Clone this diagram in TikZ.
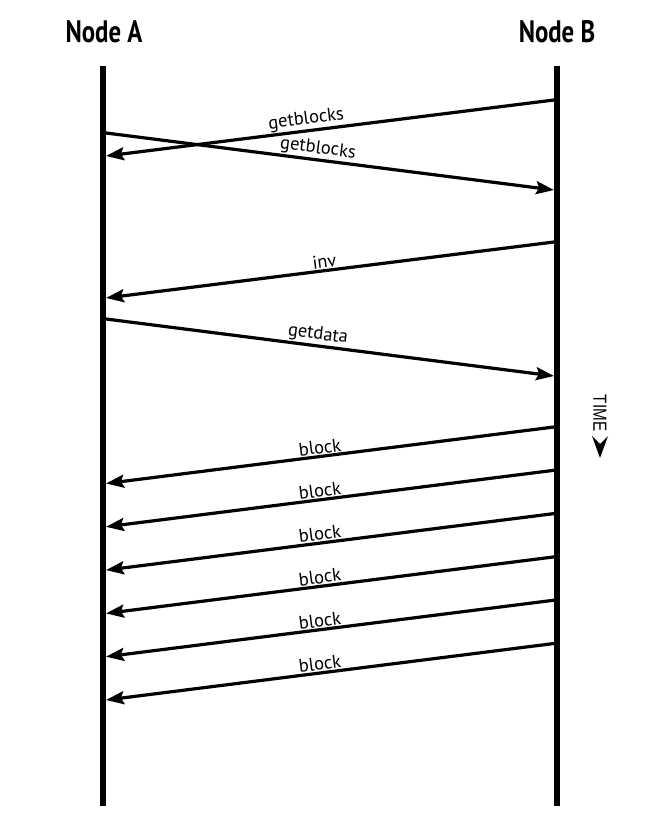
\documentclass[tikz,border=0pt]{standalone}
\usepackage{fontspec}
\setmainfont{PT Sans}
\newfontfamily\headfont{PT Sans}[FakeStretch=0.8]
\newfontfamily\timefont{Liberation Sans}[FakeStretch=0.8]
\usetikzlibrary{arrows.meta}
\begin{document}
\begin{tikzpicture}[x=1pt,y=-1pt,
  lifeline/.style={line width=6pt},
  msg/.style={line width=3.2pt,-{Stealth[length=18pt,width=13pt,inset=3pt]}},
  lbl/.style={font=\fontsize{18.5}{18.5}\selectfont, sloped, above, inner sep=1pt},
  head/.style={font=\headfont\fontsize{31}{31}\selectfont\bfseries}]
\useasboundingbox (0,0) rectangle (659,818);
% headers
\node[head] (hA) at (104,32) {Node A};
\node[head] (hB) at (557,32) {Node B};
% lifelines
\coordinate (At) at (103,66);
\coordinate (Ab) at (103,806);
\coordinate (Bt) at (557,66);
\coordinate (Bb) at (557,806);
\draw[lifeline] (At) -- (Ab);
\draw[lifeline] (Bt) -- (Bb);
% endpoints
\coordinate (b1s) at (554,100); \coordinate (a1e) at (106,156);
\coordinate (a2s) at (106,133); \coordinate (b2e) at (554,190);
\coordinate (b3s) at (554,242); \coordinate (a3e) at (106,298);
\coordinate (a4s) at (106,319); \coordinate (b4e) at (554,376);
\draw[msg] (b1s) -- node[lbl, pos=0.55] {getblocks} (a1e);
\draw[msg] (a2s) -- node[lbl, pos=0.47] {getblocks} (b2e);
\draw[msg] (b3s) -- node[lbl, pos=0.51] {inv} (a3e);
\draw[msg] (a4s) -- node[lbl, pos=0.47] {getdata} (b4e);
\foreach \i/\y in {1/427,2/470.3,3/513.6,4/556.9,5/600.2,6/643.5}{
  \coordinate (bs\i) at (554,\y);
  \coordinate (ae\i) at (106,\y+56.5);
  \draw[msg] (bs\i) -- node[lbl, pos=0.52] {block} (ae\i);
}
% TIME
\node[font=\timefont\fontsize{19}{19}\selectfont, rotate=-90, inner sep=0pt] (time) at (600,413) {TIME};
\coordinate (tt) at (600,458);
\fill (tt) -- ++(-8,-22) -- ++(8,8) -- ++(8,-8) -- cycle;
\end{tikzpicture}
\end{document}
